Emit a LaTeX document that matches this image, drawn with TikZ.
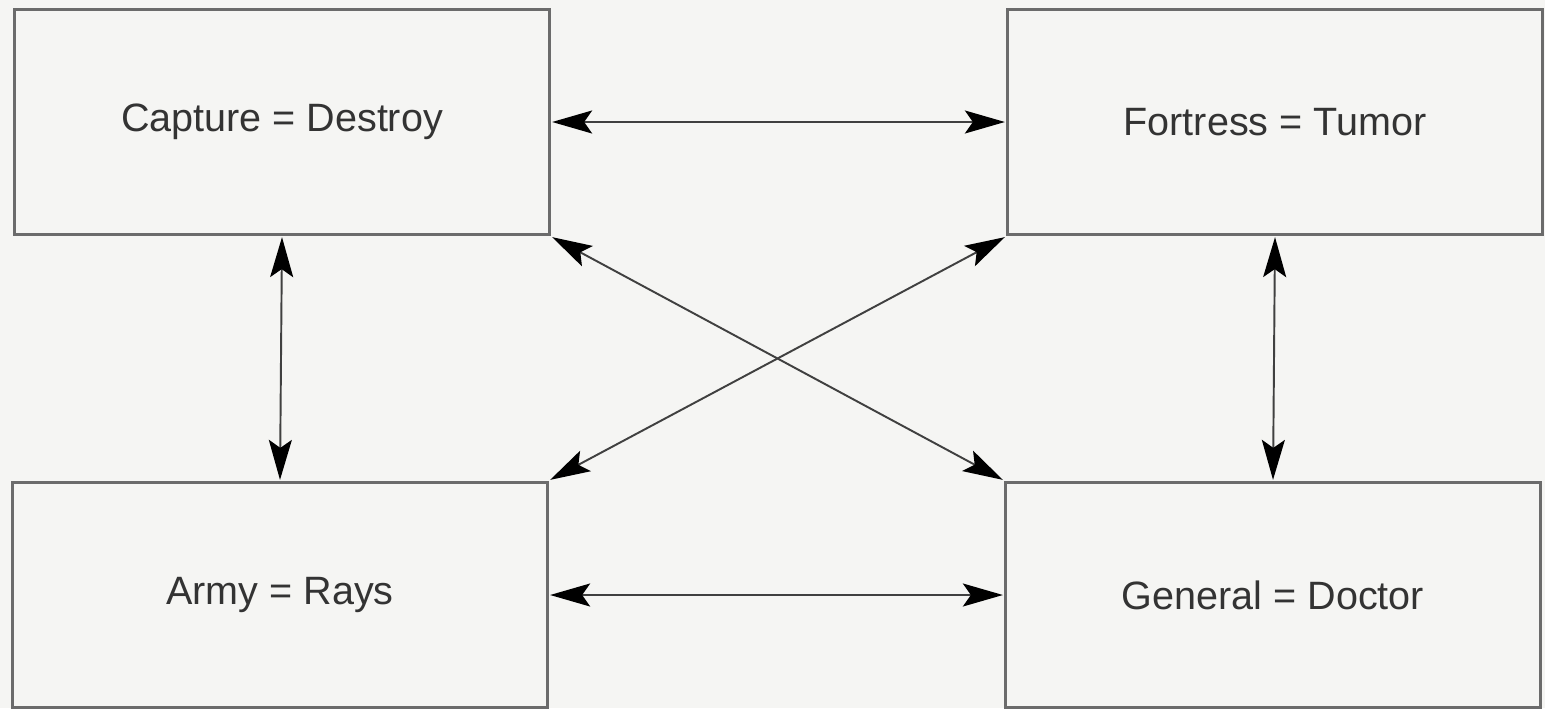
\documentclass[tikz,border=0pt]{standalone}
\usepackage{fontspec}
\setmainfont{Liberation Sans}
\usetikzlibrary{arrows.meta,positioning}
\definecolor{paper}{RGB}{245,245,243}
\definecolor{ink}{RGB}{70,70,70}

\begin{document}
\begin{tikzpicture}[>={Stealth[length=0.8cm,width=0.46cm,inset=0.16cm,black]},
    font=\fontsize{22.5}{26}\selectfont,
    box/.style={draw=ink!80,line width=1.3pt,fill=paper,text=black!80,
      minimum width=10.7cm,minimum height=4.5cm,inner sep=0pt,outer sep=1.5pt},
    link/.style={<->,black!75,line width=1.1pt}]
  % frame
  \fill[paper] (0,0) rectangle (30.9,14.16);
  \useasboundingbox (0,0) rectangle (30.9,14.16);
  % the four boxes
  \node[box] (capture) at (5.64,11.72) {Capture = Destroy};
  \node[box] (fortress) at (25.5,11.72) {Fortress = Tumor};
  \node[box] (army) at (5.6,2.26) {Army = Rays};
  \node[box] (general) at (25.46,2.26) {General = Doctor};
  % links
  \draw[link] (capture.east) -- (fortress.west);
  \draw[link] (army.east) -- (general.west);
  \draw[link] (capture.south) -- (army.north);
  \draw[link] (fortress.south) -- (general.north);
  \draw[link] (capture.south east) -- (general.north west);
  \draw[link] (fortress.south west) -- (army.north east);
\end{tikzpicture}
\end{document}
